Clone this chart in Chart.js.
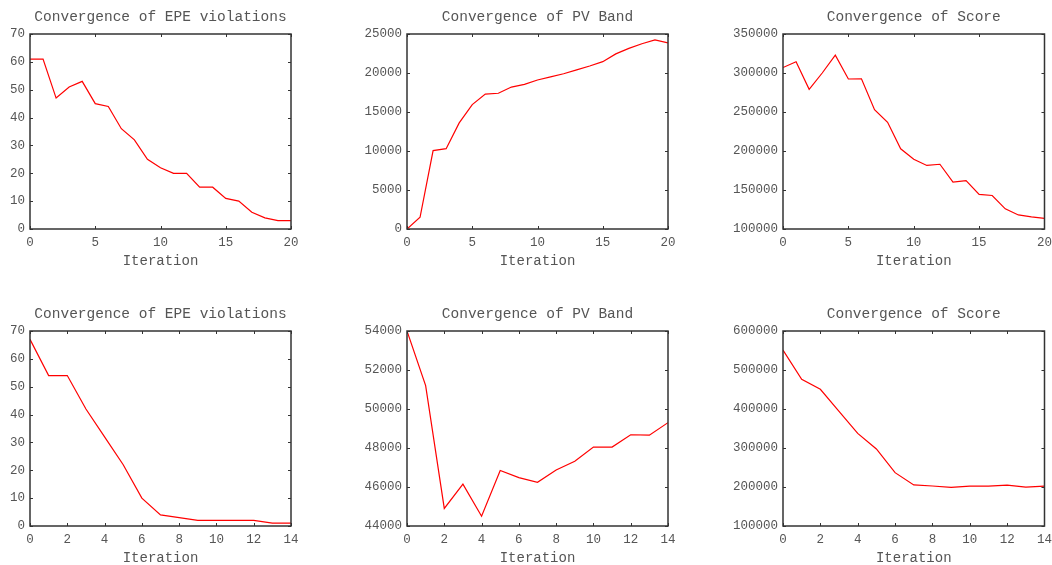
<!DOCTYPE html>
<html>
<head>
<meta charset="utf-8">
<script src="https://cdn.jsdelivr.net/npm/chart.js@4/dist/chart.umd.min.js"></script>
<style>
  html, body { margin: 0; padding: 0; background: #fff; overflow: hidden; }
  canvas { position: absolute; }
</style>
</head>
<body>
<canvas id="c1" width="345" height="268" style="left:0px;top:0px"></canvas>
<canvas id="c2" width="345" height="268" style="left:345px;top:0px"></canvas>
<canvas id="c3" width="368" height="268" style="left:690px;top:0px"></canvas>
<canvas id="c4" width="345" height="268" style="left:0px;top:297px"></canvas>
<canvas id="c5" width="345" height="268" style="left:345px;top:297px"></canvas>
<canvas id="c6" width="368" height="268" style="left:690px;top:297px"></canvas>
<script>
// iterations
var iterA = [0, 1, 2, 3, 4, 5, 6, 7, 8, 9, 10, 11, 12, 13, 14, 15, 16, 17, 18, 19, 20];
var iterB = [0, 1, 2, 3, 4, 5, 6, 7, 8, 9, 10, 11, 12, 13, 14];

// first run (top row)
var epeA = [61, 61, 47, 51, 53, 45, 44, 36, 32, 25, 22, 20, 20, 15, 15, 11, 10, 6, 4, 3, 3];
var pvA = [0, 1500, 10050, 10300, 13600, 15950, 17300, 17400, 18200, 18550, 19100, 19500, 19900,
           20400, 20900, 21450, 22450, 23150, 23750, 24250, 23850];
var scoreA = [307000, 314500, 279000, 300000, 322800, 292300, 292500, 253000, 236800, 202800, 189500,
              181500, 183000, 160000, 162000, 144300, 143000, 125800, 118000, 115500, 113600];

// second run (bottom row)
var epeB = [67, 54, 54, 42, 32, 22, 10, 4, 3, 2, 2, 2, 2, 1, 1];
var pvB = [54000, 51200, 44900, 46150, 44500, 46850, 46480, 46240, 46870, 47320, 48050, 48050,
           48680, 48660, 49300];
var scoreB = [551000, 476000, 450500, 394000, 337600, 297500, 236800, 205200, 202500, 199000,
              202000, 202000, 205000, 199500, 202000];

var textColor = '#555';
var fontFamily = "'Liberation Mono', 'DejaVu Sans Mono', monospace";

// draws the gnuplot style box with inward ticks on all four sides
var framePlugin = {
    id: 'frame',
    afterDatasetsDraw: function(chart) {
        var ctx = chart.ctx;
        var a = chart.chartArea;
        var x = chart.scales.x;
        var y = chart.scales.y;
        ctx.save();
        ctx.strokeStyle = '#333';
        ctx.lineWidth = 1;
        x.ticks.forEach(function(t) {
            var px = Math.round(x.getPixelForValue(t.value)) + 0.5;
            ctx.beginPath();
            ctx.moveTo(px, a.bottom); ctx.lineTo(px, a.bottom - 3);
            ctx.moveTo(px, a.top); ctx.lineTo(px, a.top + 3);
            ctx.stroke();
        });
        y.ticks.forEach(function(t) {
            var py = Math.round(y.getPixelForValue(t.value)) + 0.5;
            ctx.beginPath();
            ctx.moveTo(a.left, py); ctx.lineTo(a.left + 3, py);
            ctx.moveTo(a.right, py); ctx.lineTo(a.right - 3, py);
            ctx.stroke();
        });
        ctx.lineWidth = 1.5;
        ctx.strokeRect(a.left, a.top, a.right - a.left, a.bottom - a.top);
        ctx.restore();
    }
};

function makeChart(id, title, iters, values, xMax, xStep, yMin, yMax, yStep, yWidth, padRight) {
    var points = [];
    for (var i = 0; i < iters.length; i++) {
        points.push({x: iters[i], y: values[i]});
    }
    var ctx = document.getElementById(id).getContext('2d');
    return new Chart(ctx, {
        type: 'line',
        data: {
            datasets: [{
                data: points,
                borderColor: '#ff0000',
                borderWidth: 1.2,
                pointRadius: 0,
                tension: 0,
                fill: false
            }]
        },
        options: {
            responsive: false,
            animation: false,
            devicePixelRatio: 1,
            layout: { padding: { left: 0, right: padRight, top: 0, bottom: 0 } },
            plugins: {
                legend: { display: false },
                tooltip: { enabled: false },
                title: {
                    display: true,
                    text: title,
                    fullSize: false,
                    color: textColor,
                    font: { family: fontFamily, size: 14.5, weight: 'normal' },
                    padding: { top: 8, bottom: 8.6 }
                }
            },
            scales: {
                x: {
                    type: 'linear',
                    min: 0,
                    max: xMax,
                    grid: { display: false, drawTicks: false },
                    border: { display: false },
                    ticks: {
                        stepSize: xStep,
                        autoSkip: false,
                        maxRotation: 0,
                        padding: 6,
                        color: textColor,
                        font: { family: fontFamily, size: 12.5 }
                    },
                    title: {
                        display: true,
                        text: 'Iteration',
                        color: textColor,
                        font: { family: fontFamily, size: 14, lineHeight: 1 },
                        padding: 0
                    },
                    afterFit: function(scale) { scale.height = 39; }
                },
                y: {
                    min: yMin,
                    max: yMax,
                    grid: { display: false, drawTicks: false },
                    border: { display: false },
                    ticks: {
                        stepSize: yStep,
                        autoSkip: false,
                        padding: 5,
                        color: textColor,
                        font: { family: fontFamily, size: 12.5 },
                        callback: function(v) { return String(v); }
                    },
                    afterFit: function(scale) { scale.width = yWidth; }
                }
            }
        },
        plugins: [framePlugin]
    });
}

makeChart('c1', 'Convergence of EPE violations', iterA, epeA, 20, 5, 0, 70, 10, 30, 54);
makeChart('c2', 'Convergence of PV Band', iterA, pvA, 20, 5, 0, 25000, 5000, 62, 22);
makeChart('c3', 'Convergence of Score', iterA, scoreA, 20, 5, 100000, 350000, 50000, 93, 0);
makeChart('c4', 'Convergence of EPE violations', iterB, epeB, 14, 2, 0, 70, 10, 30, 54);
makeChart('c5', 'Convergence of PV Band', iterB, pvB, 14, 2, 44000, 54000, 2000, 62, 22);
makeChart('c6', 'Convergence of Score', iterB, scoreB, 14, 2, 100000, 600000, 100000, 93, 0);
</script>
</body>
</html>
